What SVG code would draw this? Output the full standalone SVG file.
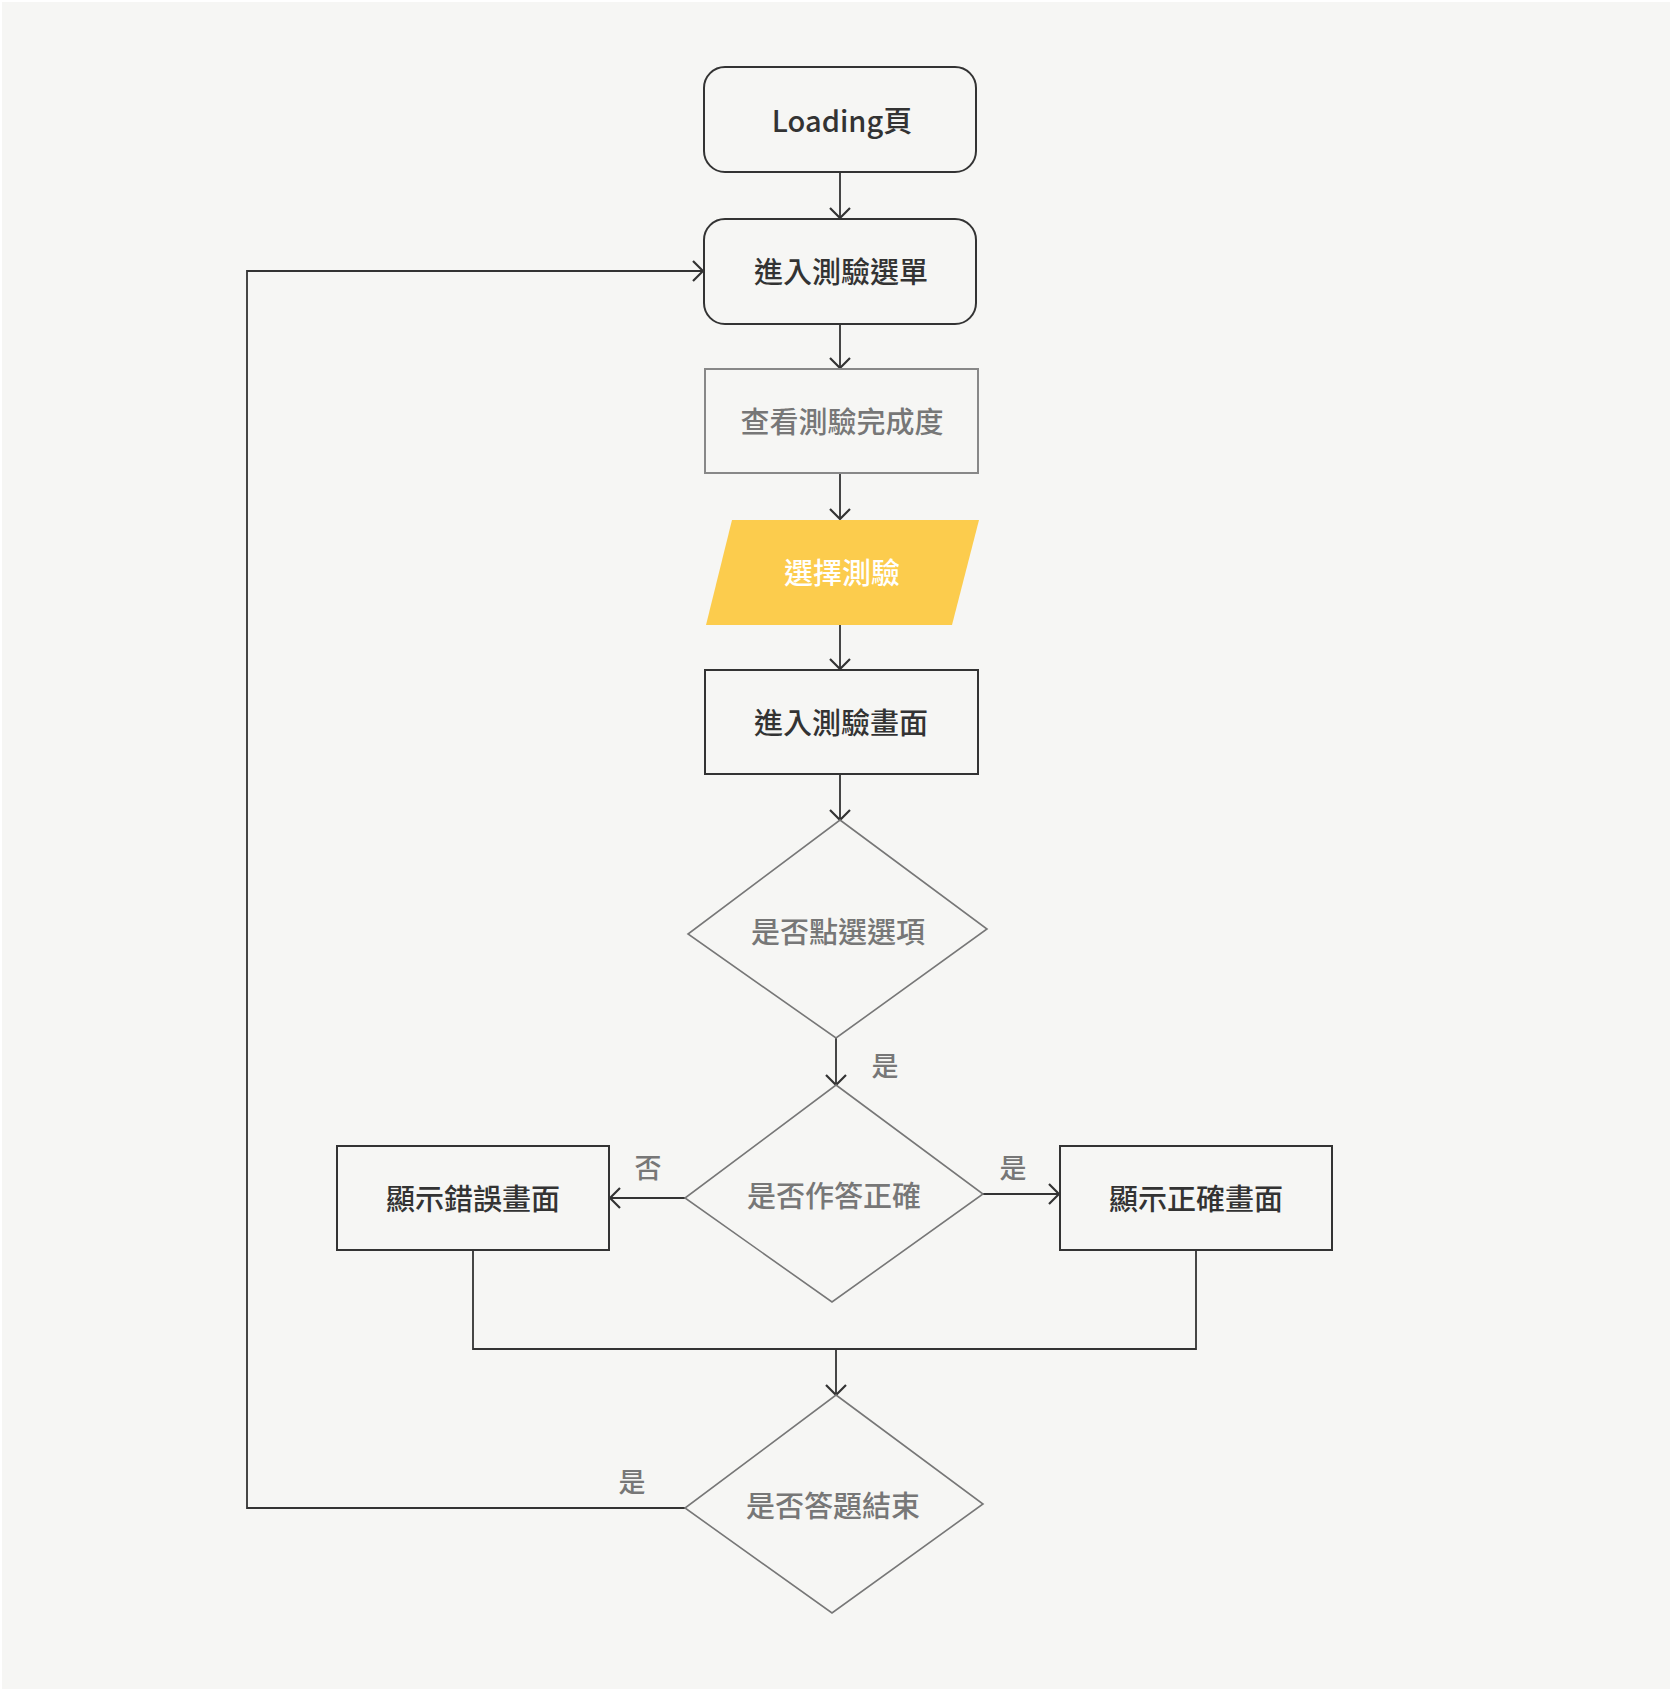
<svg xmlns="http://www.w3.org/2000/svg" width="1672" height="1691" viewBox="0 0 1672 1691">
<defs>
<style>
.t{font-family:"Noto Sans CJK TC","Noto Sans",sans-serif;font-size:29px;text-anchor:middle;dominant-baseline:central;font-weight:500}
.dark{fill:#333}
.gray{fill:#777}
.white{fill:#fff}
.lbl{font-family:"Noto Sans CJK TC","Noto Sans",sans-serif;font-size:27px;fill:#777;text-anchor:middle;dominant-baseline:central;font-weight:500}
.box{fill:none;stroke:#333;stroke-width:2}
.lightbox{fill:none;stroke:#888;stroke-width:2}
.dia{fill:none;stroke:#777;stroke-width:1.6}
.con{fill:none;stroke:#333;stroke-width:1.8}
</style>
<marker id="arr" viewBox="0 0 12 22" refX="11" refY="11" markerWidth="12" markerHeight="22" markerUnits="userSpaceOnUse" orient="auto">
<path d="M1,1 L11,11 L1,21" fill="none" stroke="#333" stroke-width="2.2"/>
</marker>
</defs>
<rect x="0" y="0" width="1672" height="1691" fill="#ffffff"/>
<rect x="2" y="2" width="1668" height="1687" fill="#f6f6f4"/>

<g id="connectors">
<line class="con" x1="840" y1="172" x2="840" y2="218" marker-end="url(#arr)"/>
<line class="con" x1="840" y1="324" x2="840" y2="368" marker-end="url(#arr)"/>
<line class="con" x1="840" y1="473" x2="840" y2="519" marker-end="url(#arr)"/>
<line class="con" x1="840" y1="625" x2="840" y2="669" marker-end="url(#arr)"/>
<line class="con" x1="840" y1="774" x2="840" y2="820" marker-end="url(#arr)"/>
<line class="con" x1="836" y1="1038" x2="836" y2="1085" marker-end="url(#arr)"/>
<line class="con" x1="685" y1="1198" x2="610" y2="1198" marker-end="url(#arr)"/>
<line class="con" x1="983" y1="1194" x2="1059" y2="1194" marker-end="url(#arr)"/>
<polyline class="con" points="473,1250 473,1349 1196,1349 1196,1250"/>
<line class="con" x1="836" y1="1349" x2="836" y2="1395" marker-end="url(#arr)"/>
<polyline class="con" points="685,1508 247,1508 247,271 703,271" marker-end="url(#arr)"/>
<text class="lbl" x="885" y="1064">是</text>
<text class="lbl" x="648" y="1166">否</text>
<text class="lbl" x="1013" y="1166">是</text>
<text class="lbl" x="632" y="1480">是</text>
</g>

<g id="loading">
<rect class="box" x="704" y="67" width="272" height="105" rx="21" ry="21"/>
<text class="t dark" x="842" y="119">Loading頁</text>
</g>
<g id="menu">
<rect class="box" x="704" y="219" width="272" height="105" rx="21" ry="21"/>
<text class="t dark" x="841" y="270">進入測驗選單</text>
</g>
<g id="progress">
<rect class="lightbox" x="705" y="369" width="273" height="104"/>
<text class="t gray" x="842" y="420">查看測驗完成度</text>
</g>
<g id="select">
<polygon points="732,520 979,520 952,625 706,625" fill="#fccc4d"/>
<text class="t white" x="842" y="571">選擇測驗</text>
</g>
<g id="quiz">
<rect class="box" x="705" y="670" width="273" height="104"/>
<text class="t dark" x="841" y="721">進入測驗畫面</text>
</g>
<g id="d-click">
<polygon class="dia" points="840,820 987,929 836,1038 688,934"/>
<text class="t gray" x="838" y="930">是否點選選項</text>
</g>
<g id="d-correct">
<polygon class="dia" points="836,1085 983,1194 832,1302 685,1198"/>
<text class="t gray" x="834" y="1194">是否作答正確</text>
</g>
<g id="wrong">
<rect class="box" x="337" y="1146" width="272" height="104"/>
<text class="t dark" x="473" y="1197">顯示錯誤畫面</text>
</g>
<g id="right">
<rect class="box" x="1060" y="1146" width="272" height="104"/>
<text class="t dark" x="1196" y="1197">顯示正確畫面</text>
</g>
<g id="d-end">
<polygon class="dia" points="836,1395 983,1504 832,1613 685,1508"/>
<text class="t gray" x="833" y="1504">是否答題結束</text>
</g>
</svg>
